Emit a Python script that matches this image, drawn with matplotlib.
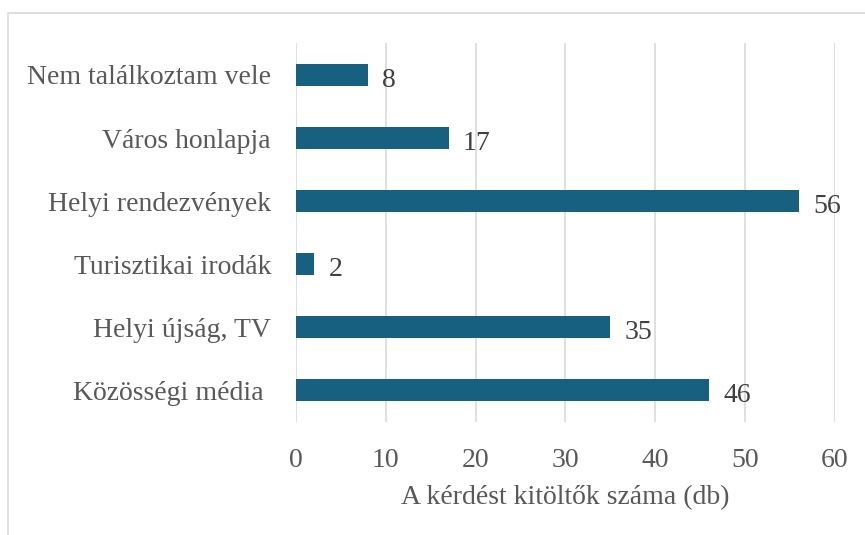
#! /usr/bin/env python3
import numpy as np
import matplotlib
matplotlib.use('Agg')
import matplotlib.pyplot as plt
from matplotlib.patches import Rectangle

# data
#
categories = ['Közösségi média ', 'Helyi újság, TV', 'Turisztikai irodák',
              'Helyi rendezvények', 'Város honlapja', 'Nem találkoztam vele']
values = [46, 35, 2, 56, 17, 8]
xticks = [0, 10, 20, 30, 40, 50, 60]

plt.rcParams['font.family'] = ['Liberation Serif', 'DejaVu Serif']

fig = plt.figure(figsize=(8.65, 5.35), dpi=100)
ax = fig.add_axes([0.3422, 0.2121, 0.6231, 0.7066])

# outer frame
#
fig.patches.append(Rectangle((8 / 865, -0.01), 1.0, 1 - 13 / 535 + 0.01,
                             transform=fig.transFigure, fill=False,
                             ec='#d9d9d9', lw=1.2))

y = np.arange(len(categories))
ax.barh(y, values, height=0.36, color='#17607f', zorder=3)
for yi, v in zip(y, values):
  ax.text(v + 1.6, yi - 0.08, str(v), va='center', ha='left',
          fontsize=20, color='#404040')

ax.set_xlim(0, 60)
ax.set_ylim(-0.5, len(categories) - 0.5)
ax.set_xticks(xticks)
ax.set_yticks(y)
ax.set_yticklabels(categories)
ax.grid(axis='x', color='#d9d9d9', lw=1.2, zorder=0)
for s in ax.spines.values():
  s.set_visible(False)
ax.tick_params(axis='both', length=0, labelsize=20, labelcolor='#595959')
ax.tick_params(axis='x', pad=19)
ax.tick_params(axis='y', pad=18)
ax.set_xlabel('A kérdést kitöltők száma (db)', fontsize=20, color='#595959',
              labelpad=9)

plt.savefig('out.png', dpi=100)
